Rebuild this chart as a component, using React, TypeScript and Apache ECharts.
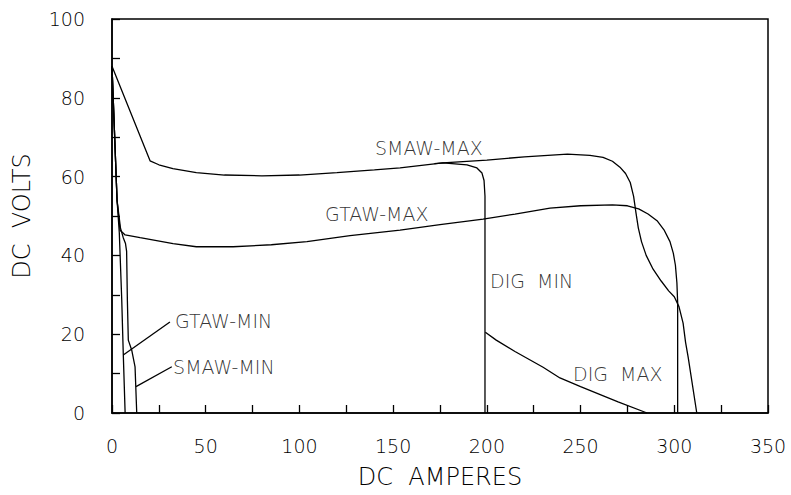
import React, { useEffect, useRef } from "react";
import * as echarts from "echarts";

// DC AMPERES, DC VOLTS pairs
const smawMax: [number, number][] = [
  [0, 88], [20.3, 64], [25, 63], [32.5, 62], [45, 61], [60, 60.4], [80, 60.2], [100, 60.4],
  [120, 61], [140, 61.7], [153.7, 62.2], [176.6, 63.5], [200, 64.2], [220, 65], [243, 65.7],
  [255, 65.4], [262, 64.9], [267, 63.9], [271, 62.4], [274, 60.8], [276.5, 58.5], [278.3, 55],
  [279.5, 51], [280.8, 47], [282.5, 43.5], [285, 40], [288.7, 36.5], [293, 33.5], [297, 31],
  [300, 29.5], [302.5, 27], [304.7, 22.8], [306, 18], [307.4, 14.2], [312, 0],
];
const gtawMax: [number, number][] = [
  [0, 88], [2.7, 54], [4.3, 46.4], [5.9, 45.7], [7, 45.2], [15, 44.5], [32.6, 43], [45, 42.2],
  [64.6, 42.2], [85, 42.7], [104, 43.5], [127, 45], [153.7, 46.4], [175, 47.8], [198, 49.2],
  [215, 50.5], [233.7, 52], [250, 52.6], [267, 52.8], [275, 52.6], [281, 51.8], [286, 50.5],
  [290.8, 48.8], [294.5, 46.5], [297.7, 43.5], [299.5, 40.5], [300.6, 37.5], [301.4, 33],
  [301.8, 28], [301.8, 0],
];
const gtawMin: [number, number][] = [
  [0, 88], [2.7, 54], [3.9, 45.7], [5.2, 28.7], [6, 15.2], [7, 0],
];
const smawMin: [number, number][] = [
  [0, 88], [2.7, 54], [4.5, 47], [6, 44.5], [7.2, 43], [7.8, 41], [8.2, 28.7], [8.7, 18.5],
  [10.5, 16], [12.3, 11.7], [13.2, 0],
];
const digMin: [number, number][] = [
  [172, 63.3], [176.6, 63.5], [189.4, 63], [194.7, 62.2], [197.4, 60.9], [198.5, 59], [199, 55], [199, 0],
];
const digMax: [number, number][] = [
  [199.2, 20.5], [205, 18.5], [215, 15.6], [230, 11.6], [239, 8.9], [250, 6.7], [270, 2.8], [285.5, 0],
];

// curve labels (anchor = left end of text) and leader lines
const curveLabels: [number, number, string][] = [
  [140.3, 67.3, "SMAW-MAX"],
  [113.7, 50.5, "GTAW-MAX"],
  [201.7, 33.5, "DIG  MIN"],
  [246, 9.9, "DIG  MAX"],
  [33.6, 23.4, "GTAW-MIN"],
  [32.6, 11.7, "SMAW-MIN"],
];
const gtawMinLeader: [number, number][] = [[30.9, 23.1], [6.0, 14.7]];
const smawMinLeader: [number, number][] = [[31.9, 11.75], [12.8, 6.7]];

const xTicks = { min: 0, max: 350, step: 25, labelStep: 50 };
const yTicks = { min: 0, max: 100, step: 10, labelStep: 20 };

const FONT = "'DejaVu Sans', sans-serif";
const WEIGHT = 200;

export default function App() {
  const ref = useRef<HTMLDivElement>(null);
  useEffect(() => {
    if (!ref.current) return;
    const chart = echarts.init(ref.current, null, { renderer: "svg" });
    const lineStyle = { color: "#000", width: 1.3 };
    const mk = (name: string, data: [number, number][]) => ({
      name,
      type: "line",
      data,
      showSymbol: false,
      symbol: "none",
      lineStyle,
      silent: true,
    });
    chart.setOption({
      animation: false,
      backgroundColor: "#fff",
      grid: {
        left: 112, top: 19, right: 23, bottom: 82,
        show: true, borderColor: "#000", borderWidth: 1.5,
      },
      xAxis: {
        type: "value",
        min: xTicks.min, max: xTicks.max, interval: xTicks.step,
        name: "DC  AMPERES",
        nameLocation: "middle",
        nameGap: 52,
        nameTextStyle: { fontFamily: FONT, fontWeight: WEIGHT, fontSize: 24, color: "#000" },
        axisLine: { show: true, lineStyle: { color: "#000", width: 1.5 } },
        axisTick: { show: true, inside: true, length: 8, lineStyle: { color: "#000", width: 1.3 } },
        axisLabel: {
          margin: 23, fontFamily: FONT, fontWeight: WEIGHT, fontSize: 19, color: "#000",
          formatter: (v: number) => (v % xTicks.labelStep === 0 ? String(v) : ""),
        },
        splitLine: { show: false },
      },
      yAxis: {
        type: "value",
        min: yTicks.min, max: yTicks.max, interval: yTicks.step,
        name: "DC  VOLTS",
        nameLocation: "middle",
        nameGap: 78,
        nameRotate: 90,
        nameTextStyle: { fontFamily: FONT, fontWeight: WEIGHT, fontSize: 24, color: "#000" },
        axisLine: { show: true, lineStyle: { color: "#000", width: 1.5 } },
        axisTick: { show: true, inside: true, length: 8, lineStyle: { color: "#000", width: 1.3 } },
        axisLabel: {
          margin: 27, fontFamily: FONT, fontWeight: WEIGHT, fontSize: 19, color: "#000",
          formatter: (v: number) => (v % yTicks.labelStep === 0 ? String(v) : ""),
        },
        splitLine: { show: false },
      },
      series: [
        mk("SMAW-MAX", smawMax),
        mk("GTAW-MAX", gtawMax),
        mk("GTAW-MIN", gtawMin),
        mk("SMAW-MIN", smawMin),
        mk("DIG MIN", digMin),
        mk("DIG MAX", digMax),
        mk("GTAW-MIN leader", gtawMinLeader),
        mk("SMAW-MIN leader", smawMinLeader),
        {
          name: "labels",
          type: "scatter",
          symbolSize: 0,
          silent: true,
          data: curveLabels.map(([x, y, t]) => ({ value: [x, y], name: t })),
          label: {
            show: true,
            position: "right",
            distance: 0,
            formatter: (p: any) => p.name,
            fontFamily: FONT,
            fontWeight: WEIGHT,
            fontSize: 19,
            color: "#000",
          },
        },
      ],
    });
    return () => chart.dispose();
  }, []);
  return <div ref={ref} style={{ width: 791, height: 495, position: "absolute", left: 0, top: 0 }} />;
}
